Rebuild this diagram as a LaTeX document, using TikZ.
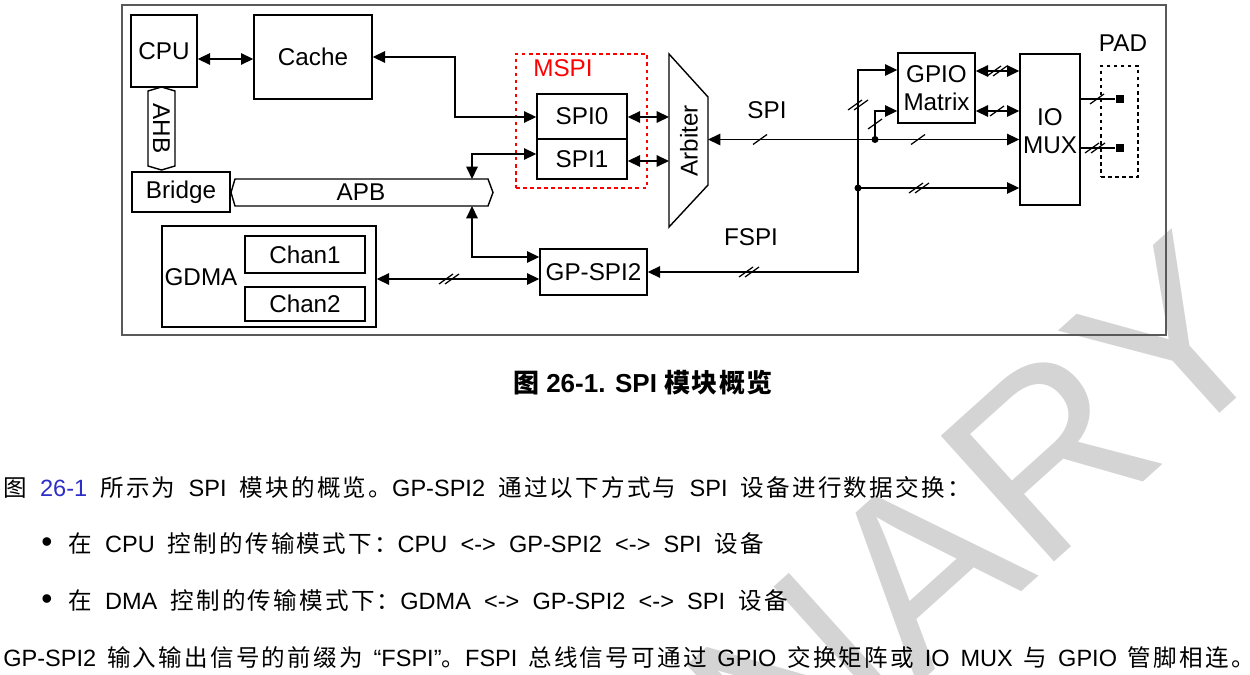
\documentclass[tikz,border=0pt]{standalone}
\usepackage{fontspec}
\setmainfont{Liberation Sans}
\newfontfamily\cjkls[LetterSpace=9.5]{Noto Sans CJK SC}
\newfontfamily\cjkbold[LetterSpace=6]{Noto Sans CJK SC}
\usetikzlibrary{arrows.meta,fit}
\definecolor{linkblue}{RGB}{45,45,200}
\definecolor{wmgray}{RGB}{212,212,212}
\newcommand\zh[1]{{\cjkls #1}}
\newcommand\zhb[1]{{\cjkbold\bfseries #1}}
\newcommand\widesp{\spaceskip=7.5pt plus 1pt\relax}
\newcommand\midsp{\spaceskip=6.2pt plus 1pt\relax}
\begin{document}
\begin{tikzpicture}[x=0.02cm,y=-0.02cm,
  box/.style={draw, line width=0.8pt, inner sep=0pt},
  lbl/.style={font=\fontsize{13.8}{15.9}\selectfont, inner sep=0pt},
  con/.style={line width=0.8pt},
  arr/.style={con,-{Triangle[length=7pt,width=6.5pt]}},
  darr/.style={con,{Triangle[length=7pt,width=6.5pt]}-{Triangle[length=7pt,width=6.5pt]}},
  dot/.style={circle, fill, inner sep=0pt, minimum size=4pt},
  padsq/.style={fill, inner sep=0pt, minimum size=0.17cm},
  body/.style={font=\fontsize{13.4}{16}\selectfont\widesp, inner sep=0pt},
  tka/.pic={\draw[line width=0.7pt] (-7,5)--(7,-5);},
  tkb/.pic={\draw[line width=0.7pt] (-10,5)--(4,-5) (-4,5)--(10,-5);}
]
\useasboundingbox (0,0) rectangle (1250,675);
\fill[white] (0,0) rectangle (1250,675);
\begin{scope}
\clip (0,0) rectangle (1250,675);
\node[rotate=42, anchor=base east, text=wmgray, font=\fontsize{140}{140}\selectfont, inner sep=0pt] (wm) at (1290,350) {PRELIMINARY};
\end{scope}

% frame
\node[draw=black!65, line width=0.7pt, inner sep=0pt, fit={(122,5)(1166,335)}] (frame) {};

% left blocks
\node[box, fit={(131,15)(197,87)}] (cpu) {};
\node[lbl] (cpul) at (cpu.center) {CPU};
\node[box, fit={(254,15)(372,99)}] (cache) {};
\node[lbl] (cachel) at (cache.center) {Cache};
\node[box, fit={(132,172)(230,212)}] (bridge) {};
\node[lbl] (bridgel) at (bridge.center) {Bridge};
\draw[line width=0.8pt] (148,91)--(161.5,87)--(175,91)--(175,166)--(161.5,170)--(148,166)--cycle;
\node[lbl, rotate=-90] (ahb) at (161.5,128.5) {AHB};
\draw[line width=0.8pt] (235,179)--(488,179)--(493,192.5)--(488,206)--(235,206)--(231,192.5)--cycle;
\node[lbl] (apb) at (361,192.5) {APB};
\coordinate (apbT) at (472,179);
\coordinate (apbB) at (472,206);

% MSPI
\node[draw=red, dash pattern=on 2pt off 2pt, line width=0.8pt, inner sep=0pt, fit={(516,54)(647,188)}] (mspi) {};
\node[lbl, text=red] (mspil) at (563,68) {MSPI};
\node[box, fit={(537,94)(627,139)}] (spi0) {};
\node[lbl] (spi0l) at (spi0.center) {SPI0};
\node[box, fit={(537,139)(627,179)}] (spi1) {};
\node[lbl] (spi1l) at (spi1.center) {SPI1};

% Arbiter
\draw[line width=0.8pt] (669,54)--(708,97)--(708,185)--(669,227)--cycle;
\node[lbl, rotate=90] (arb) at (689,141) {Arbiter};
\coordinate (arbL0) at (669,117);
\coordinate (arbL1) at (669,161);
\coordinate (arbR) at (708,139.5);

% GDMA / GP-SPI2
\node[box, fit={(162,226)(376,327)}] (gdma) {};
\node[lbl] (gdmal) at (201,277) {GDMA};
\node[box, fit={(245,236)(365,273)}] (chan1) {};
\node[lbl] (chan1l) at (chan1.center) {Chan1};
\node[box, fit={(245,287)(365,321)}] (chan2) {};
\node[lbl] (chan2l) at (chan2.center) {Chan2};
\node[box, fit={(540,249)(647,295)}] (gpspi) {};
\node[lbl] (gpspil) at (gpspi.center) {GP-SPI2};

% right blocks
\node[box, fit={(898,53)(975,123)}] (gpio) {};
\node[lbl, align=center] (gpiol) at (gpio.center) {GPIO\\Matrix};
\node[box, fit={(1020,54)(1080,205)}] (iomux) {};
\node[lbl, align=center] (iomuxl) at (1050,131.5) {IO\\MUX};
\node[draw, dash pattern=on 2pt off 2pt, line width=0.8pt, inner sep=0pt, fit={(1101,66)(1138,177)}] (pad) {};
\node[lbl] (padl) at (1123,43) {PAD};
\node[padsq] (p1) at (1120,99) {};
\node[padsq] (p2) at (1120,148) {};

% labels
\node[lbl] (spil) at (767,110) {SPI};
\node[lbl] (fspil) at (751,237) {FSPI};

% connectors
\draw[darr] (cpu.east |- 0,59) -- (cache.west |- 0,59);
\draw[darr] (cache.east |- 0,57) -- (455,57) -- (455,117) -- (spi0.west |- 0,117);
\draw[darr] (spi1.west |- 0,154) -| (apbT);
\draw[darr] (apbB) |- (gpspi.west |- 0,257);
\draw[darr] (gdma.east |- 0,279) -- (gpspi.west |- 0,279);
\pic at (449,279) {tkb};
\draw[darr] (spi0.east |- 0,117) -- (arbL0);
\draw[darr] (spi1.east |- 0,161) -- (arbL1);
\draw[darr] (arbR) -- (iomux.west |- 0,139.5);
\pic at (760,139.5) {tka};
\pic at (918,139.5) {tka};
\node[dot] (d1) at (875,139.5) {};
\draw[arr] (d1.center) |- (gpio.west |- 0,111);
\pic at (875,124) {tka};
\draw[darr] (gpio.west |- 0,70) -| (858,272) -- (gpspi.east |- 0,272);
\pic at (858,105) {tkb};
\pic at (749,272) {tkb};
\node[dot] (d2) at (858,188) {};
\draw[arr] (d2.center) -- (iomux.west |- 0,188);
\pic at (919,188) {tkb};
\draw[darr] (gpio.east |- 0,71) -- (iomux.west |- 0,71);
\pic at (997,71) {tkb};
\draw[darr] (gpio.east |- 0,111) -- (iomux.west |- 0,111);
\pic at (997,111) {tka};
\draw[con] (iomux.east |- 0,99) -- (p1);
\pic at (1097,99) {tka};
\draw[con] (iomux.east |- 0,148) -- (p2);
\pic at (1095,148) {tkb};

% caption and text
\node[anchor=base, inner sep=0pt, font=\fontsize{14.8}{17}\selectfont\bfseries] (cap) at (643,392) {\zhb{图} 26-1. SPI \zhb{模块概览}};
\node[body, anchor=base west] (t1) at (3,496) {\zh{图} {\color{linkblue}26-1} \zh{所示为} SPI \zh{模块的概览。}GP-SPI2 \zh{通过以下方式与} SPI \zh{设备进行数据交换：}};
\node[anchor=base west, inner sep=0pt, font=\fontsize{18}{18}\selectfont] (b2) at (41,552) {•};
\node[body, anchor=base west] (t2) at (68,552) {\zh{在} CPU \zh{控制的传输模式下：}CPU <-> GP-SPI2 <-> SPI \zh{设备}};
\node[anchor=base west, inner sep=0pt, font=\fontsize{18}{18}\selectfont] (b3) at (41,609) {•};
\node[body, anchor=base west] (t3) at (68,609) {\zh{在} DMA \zh{控制的传输模式下：}GDMA <-> GP-SPI2 <-> SPI \zh{设备}};
\node[body, anchor=base west, font=\fontsize{13.4}{16}\selectfont\midsp] (t4) at (3,666) {GP-SPI2 \zh{输入输出信号的前缀为} “FSPI”\zh{。}FSPI \zh{总线信号可通过} GPIO \zh{交换矩阵或} IO MUX \zh{与} GPIO \zh{管脚相连。}};
\end{tikzpicture}
\end{document}
